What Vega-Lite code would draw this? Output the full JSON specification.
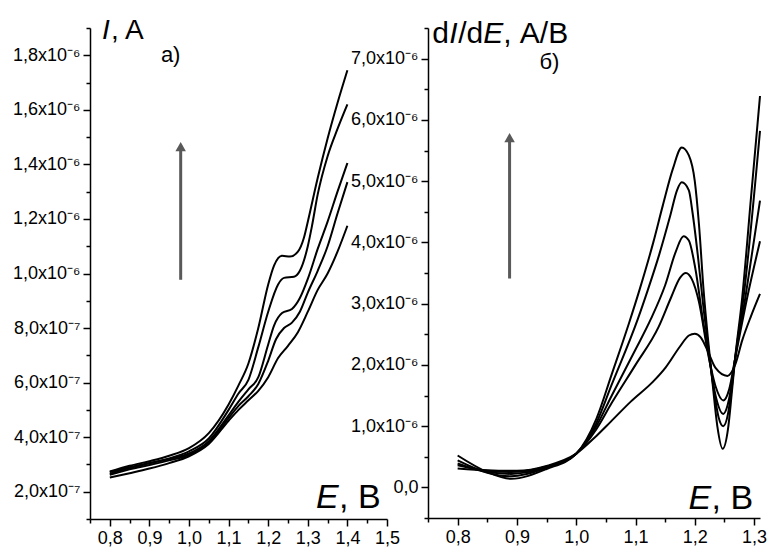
{
  "$schema": "https://vega.github.io/schema/vega-lite/v6.json",
  "background": "white",
  "padding": {"left": 12, "top": 16, "right": 5, "bottom": 5},
  "bounds": "flush",
  "spacing": 41,
  "config": {
    "view": {"stroke": null},
    "axis": {
      "grid": false,
      "domainColor": "black",
      "domainWidth": 1.5,
      "tickColor": "black",
      "tickWidth": 1.5,
      "labelFont": "Liberation Sans",
      "labelFontSize": 18,
      "labelColor": "black",
      "title": null
    },
    "text": {"font": "Liberation Sans", "color": "black"}
  },
  "datasets": {
    "left": [
      {"curve": 1, "E": 0.80, "I": 2.74e-7}, {"curve": 1, "E": 0.85, "I": 2.95e-7}, {"curve": 1, "E": 0.90, "I": 3.12e-7}, {"curve": 1, "E": 0.95, "I": 3.32e-7}, {"curve": 1, "E": 1.00, "I": 3.6e-7}, {"curve": 1, "E": 1.05, "I": 4.15e-7}, {"curve": 1, "E": 1.10, "I": 5.2e-7}, {"curve": 1, "E": 1.125, "I": 5.9e-7}, {"curve": 1, "E": 1.15, "I": 6.7e-7}, {"curve": 1, "E": 1.175, "I": 8.0e-7}, {"curve": 1, "E": 1.20, "I": 9.6e-7}, {"curve": 1, "E": 1.215, "I": 1.03e-6}, {"curve": 1, "E": 1.235, "I": 1.065e-6}, {"curve": 1, "E": 1.255, "I": 1.062e-6}, {"curve": 1, "E": 1.275, "I": 1.08e-6}, {"curve": 1, "E": 1.29, "I": 1.13e-6}, {"curve": 1, "E": 1.30, "I": 1.19e-6}, {"curve": 1, "E": 1.325, "I": 1.35e-6}, {"curve": 1, "E": 1.35, "I": 1.495e-6}, {"curve": 1, "E": 1.375, "I": 1.625e-6}, {"curve": 1, "E": 1.40, "I": 1.745e-6},
      {"curve": 2, "E": 0.80, "I": 2.66e-7}, {"curve": 2, "E": 0.85, "I": 2.87e-7}, {"curve": 2, "E": 0.90, "I": 3.04e-7}, {"curve": 2, "E": 0.95, "I": 3.22e-7}, {"curve": 2, "E": 1.00, "I": 3.48e-7}, {"curve": 2, "E": 1.05, "I": 3.95e-7}, {"curve": 2, "E": 1.10, "I": 5.0e-7}, {"curve": 2, "E": 1.125, "I": 5.6e-7}, {"curve": 2, "E": 1.15, "I": 6.1e-7}, {"curve": 2, "E": 1.175, "I": 7.3e-7}, {"curve": 2, "E": 1.20, "I": 8.6e-7}, {"curve": 2, "E": 1.225, "I": 9.6e-7}, {"curve": 2, "E": 1.24, "I": 9.84e-7}, {"curve": 2, "E": 1.265, "I": 9.88e-7}, {"curve": 2, "E": 1.28, "I": 1.01e-6}, {"curve": 2, "E": 1.30, "I": 1.10e-6}, {"curve": 2, "E": 1.31, "I": 1.17e-6}, {"curve": 2, "E": 1.325, "I": 1.29e-6}, {"curve": 2, "E": 1.35, "I": 1.43e-6}, {"curve": 2, "E": 1.375, "I": 1.53e-6}, {"curve": 2, "E": 1.40, "I": 1.62e-6},
      {"curve": 3, "E": 0.80, "I": 2.72e-7}, {"curve": 3, "E": 0.85, "I": 2.9e-7}, {"curve": 3, "E": 0.90, "I": 3.05e-7}, {"curve": 3, "E": 0.95, "I": 3.2e-7}, {"curve": 3, "E": 1.00, "I": 3.4e-7}, {"curve": 3, "E": 1.05, "I": 3.85e-7}, {"curve": 3, "E": 1.10, "I": 4.8e-7}, {"curve": 3, "E": 1.125, "I": 5.3e-7}, {"curve": 3, "E": 1.15, "I": 5.75e-7}, {"curve": 3, "E": 1.175, "I": 6.2e-7}, {"curve": 3, "E": 1.20, "I": 7.4e-7}, {"curve": 3, "E": 1.215, "I": 8.1e-7}, {"curve": 3, "E": 1.235, "I": 8.55e-7}, {"curve": 3, "E": 1.26, "I": 8.7e-7}, {"curve": 3, "E": 1.28, "I": 9.1e-7}, {"curve": 3, "E": 1.30, "I": 9.8e-7}, {"curve": 3, "E": 1.325, "I": 1.09e-6}, {"curve": 3, "E": 1.35, "I": 1.19e-6}, {"curve": 3, "E": 1.375, "I": 1.30e-6}, {"curve": 3, "E": 1.40, "I": 1.405e-6},
      {"curve": 4, "E": 0.80, "I": 2.62e-7}, {"curve": 4, "E": 0.85, "I": 2.82e-7}, {"curve": 4, "E": 0.90, "I": 2.98e-7}, {"curve": 4, "E": 0.95, "I": 3.15e-7}, {"curve": 4, "E": 1.00, "I": 3.35e-7}, {"curve": 4, "E": 1.05, "I": 3.8e-7}, {"curve": 4, "E": 1.10, "I": 4.7e-7}, {"curve": 4, "E": 1.125, "I": 5.15e-7}, {"curve": 4, "E": 1.15, "I": 5.5e-7}, {"curve": 4, "E": 1.175, "I": 5.95e-7}, {"curve": 4, "E": 1.20, "I": 6.8e-7}, {"curve": 4, "E": 1.22, "I": 7.6e-7}, {"curve": 4, "E": 1.24, "I": 8.0e-7}, {"curve": 4, "E": 1.26, "I": 8.2e-7}, {"curve": 4, "E": 1.28, "I": 8.6e-7}, {"curve": 4, "E": 1.30, "I": 9.3e-7}, {"curve": 4, "E": 1.325, "I": 1.01e-6}, {"curve": 4, "E": 1.35, "I": 1.10e-6}, {"curve": 4, "E": 1.375, "I": 1.22e-6}, {"curve": 4, "E": 1.40, "I": 1.335e-6},
      {"curve": 5, "E": 0.80, "I": 2.52e-7}, {"curve": 5, "E": 0.85, "I": 2.68e-7}, {"curve": 5, "E": 0.90, "I": 2.85e-7}, {"curve": 5, "E": 0.95, "I": 3.05e-7}, {"curve": 5, "E": 1.00, "I": 3.3e-7}, {"curve": 5, "E": 1.05, "I": 3.75e-7}, {"curve": 5, "E": 1.10, "I": 4.6e-7}, {"curve": 5, "E": 1.125, "I": 5.0e-7}, {"curve": 5, "E": 1.15, "I": 5.35e-7}, {"curve": 5, "E": 1.175, "I": 5.7e-7}, {"curve": 5, "E": 1.20, "I": 6.2e-7}, {"curve": 5, "E": 1.225, "I": 6.9e-7}, {"curve": 5, "E": 1.25, "I": 7.35e-7}, {"curve": 5, "E": 1.275, "I": 7.85e-7}, {"curve": 5, "E": 1.30, "I": 8.6e-7}, {"curve": 5, "E": 1.325, "I": 9.4e-7}, {"curve": 5, "E": 1.35, "I": 1.0e-6}, {"curve": 5, "E": 1.375, "I": 1.08e-6}, {"curve": 5, "E": 1.40, "I": 1.175e-6}
    ],
    "right": [
      {"curve": "A", "E": 0.80, "dIdE": 0.52e-6}, {"curve": "A", "E": 0.85, "dIdE": 0.25e-6}, {"curve": "A", "E": 0.89, "dIdE": 0.14e-6}, {"curve": "A", "E": 0.95, "dIdE": 0.30e-6}, {"curve": "A", "E": 1.00, "dIdE": 0.55e-6}, {"curve": "A", "E": 1.034, "dIdE": 1.12e-6}, {"curve": "A", "E": 1.06, "dIdE": 1.85e-6}, {"curve": "A", "E": 1.089, "dIdE": 2.68e-6}, {"curve": "A", "E": 1.106, "dIdE": 3.2e-6}, {"curve": "A", "E": 1.13, "dIdE": 4.0e-6}, {"curve": "A", "E": 1.146, "dIdE": 4.6e-6}, {"curve": "A", "E": 1.163, "dIdE": 5.2e-6}, {"curve": "A", "E": 1.178, "dIdE": 5.55e-6}, {"curve": "A", "E": 1.19, "dIdE": 5.42e-6}, {"curve": "A", "E": 1.20, "dIdE": 5.0e-6}, {"curve": "A", "E": 1.207, "dIdE": 4.3e-6}, {"curve": "A", "E": 1.215, "dIdE": 3.2e-6}, {"curve": "A", "E": 1.222, "dIdE": 2.45e-6}, {"curve": "A", "E": 1.23, "dIdE": 1.7e-6}, {"curve": "A", "E": 1.238, "dIdE": 1.0e-6}, {"curve": "A", "E": 1.247, "dIdE": 0.63e-6}, {"curve": "A", "E": 1.256, "dIdE": 0.95e-6}, {"curve": "A", "E": 1.262, "dIdE": 1.5e-6}, {"curve": "A", "E": 1.268, "dIdE": 2.1e-6}, {"curve": "A", "E": 1.28, "dIdE": 3.1e-6}, {"curve": "A", "E": 1.295, "dIdE": 4.75e-6}, {"curve": "A", "E": 1.31, "dIdE": 6.39e-6},
      {"curve": "B", "E": 0.80, "dIdE": 0.44e-6}, {"curve": "B", "E": 0.85, "dIdE": 0.24e-6}, {"curve": "B", "E": 0.89, "dIdE": 0.18e-6}, {"curve": "B", "E": 0.95, "dIdE": 0.32e-6}, {"curve": "B", "E": 1.00, "dIdE": 0.55e-6}, {"curve": "B", "E": 1.034, "dIdE": 1.05e-6}, {"curve": "B", "E": 1.06, "dIdE": 1.68e-6}, {"curve": "B", "E": 1.104, "dIdE": 2.75e-6}, {"curve": "B", "E": 1.12, "dIdE": 3.2e-6}, {"curve": "B", "E": 1.14, "dIdE": 3.8e-6}, {"curve": "B", "E": 1.159, "dIdE": 4.45e-6}, {"curve": "B", "E": 1.17, "dIdE": 4.85e-6}, {"curve": "B", "E": 1.178, "dIdE": 4.98e-6}, {"curve": "B", "E": 1.19, "dIdE": 4.85e-6}, {"curve": "B", "E": 1.196, "dIdE": 4.5e-6}, {"curve": "B", "E": 1.205, "dIdE": 3.8e-6}, {"curve": "B", "E": 1.215, "dIdE": 2.9e-6}, {"curve": "B", "E": 1.222, "dIdE": 2.35e-6}, {"curve": "B", "E": 1.232, "dIdE": 1.6e-6}, {"curve": "B", "E": 1.24, "dIdE": 1.15e-6}, {"curve": "B", "E": 1.248, "dIdE": 1.0e-6}, {"curve": "B", "E": 1.256, "dIdE": 1.2e-6}, {"curve": "B", "E": 1.262, "dIdE": 1.6e-6}, {"curve": "B", "E": 1.268, "dIdE": 2.1e-6}, {"curve": "B", "E": 1.282, "dIdE": 3.08e-6}, {"curve": "B", "E": 1.31, "dIdE": 5.82e-6},
      {"curve": "C", "E": 0.80, "dIdE": 0.39e-6}, {"curve": "C", "E": 0.85, "dIdE": 0.25e-6}, {"curve": "C", "E": 0.89, "dIdE": 0.22e-6}, {"curve": "C", "E": 0.95, "dIdE": 0.33e-6}, {"curve": "C", "E": 1.00, "dIdE": 0.55e-6}, {"curve": "C", "E": 1.034, "dIdE": 1.0e-6}, {"curve": "C", "E": 1.06, "dIdE": 1.5e-6}, {"curve": "C", "E": 1.10, "dIdE": 2.25e-6}, {"curve": "C", "E": 1.126, "dIdE": 2.75e-6}, {"curve": "C", "E": 1.15, "dIdE": 3.3e-6}, {"curve": "C", "E": 1.168, "dIdE": 3.85e-6}, {"curve": "C", "E": 1.181, "dIdE": 4.1e-6}, {"curve": "C", "E": 1.19, "dIdE": 4.03e-6}, {"curve": "C", "E": 1.201, "dIdE": 3.57e-6}, {"curve": "C", "E": 1.215, "dIdE": 2.65e-6}, {"curve": "C", "E": 1.222, "dIdE": 2.25e-6}, {"curve": "C", "E": 1.235, "dIdE": 1.5e-6}, {"curve": "C", "E": 1.248, "dIdE": 1.2e-6}, {"curve": "C", "E": 1.258, "dIdE": 1.45e-6}, {"curve": "C", "E": 1.268, "dIdE": 2.1e-6}, {"curve": "C", "E": 1.285, "dIdE": 3.08e-6}, {"curve": "C", "E": 1.31, "dIdE": 4.68e-6},
      {"curve": "D", "E": 0.80, "dIdE": 0.36e-6}, {"curve": "D", "E": 0.85, "dIdE": 0.27e-6}, {"curve": "D", "E": 0.89, "dIdE": 0.25e-6}, {"curve": "D", "E": 0.95, "dIdE": 0.34e-6}, {"curve": "D", "E": 1.00, "dIdE": 0.55e-6}, {"curve": "D", "E": 1.034, "dIdE": 0.95e-6}, {"curve": "D", "E": 1.06, "dIdE": 1.38e-6}, {"curve": "D", "E": 1.10, "dIdE": 2.0e-6}, {"curve": "D", "E": 1.139, "dIdE": 2.62e-6}, {"curve": "D", "E": 1.16, "dIdE": 3.1e-6}, {"curve": "D", "E": 1.175, "dIdE": 3.42e-6}, {"curve": "D", "E": 1.185, "dIdE": 3.5e-6}, {"curve": "D", "E": 1.195, "dIdE": 3.4e-6}, {"curve": "D", "E": 1.207, "dIdE": 3.03e-6}, {"curve": "D", "E": 1.222, "dIdE": 2.2e-6}, {"curve": "D", "E": 1.235, "dIdE": 1.65e-6}, {"curve": "D", "E": 1.248, "dIdE": 1.42e-6}, {"curve": "D", "E": 1.258, "dIdE": 1.6e-6}, {"curve": "D", "E": 1.268, "dIdE": 2.1e-6}, {"curve": "D", "E": 1.288, "dIdE": 3.08e-6}, {"curve": "D", "E": 1.31, "dIdE": 4.02e-6},
      {"curve": "E", "E": 0.80, "dIdE": 0.31e-6}, {"curve": "E", "E": 0.85, "dIdE": 0.28e-6}, {"curve": "E", "E": 0.90, "dIdE": 0.27e-6}, {"curve": "E", "E": 0.95, "dIdE": 0.35e-6}, {"curve": "E", "E": 1.00, "dIdE": 0.55e-6}, {"curve": "E", "E": 1.034, "dIdE": 0.84e-6}, {"curve": "E", "E": 1.058, "dIdE": 1.07e-6}, {"curve": "E", "E": 1.092, "dIdE": 1.4e-6}, {"curve": "E", "E": 1.13, "dIdE": 1.73e-6}, {"curve": "E", "E": 1.151, "dIdE": 1.96e-6}, {"curve": "E", "E": 1.175, "dIdE": 2.3e-6}, {"curve": "E", "E": 1.19, "dIdE": 2.48e-6}, {"curve": "E", "E": 1.20, "dIdE": 2.51e-6}, {"curve": "E", "E": 1.21, "dIdE": 2.45e-6}, {"curve": "E", "E": 1.223, "dIdE": 2.2e-6}, {"curve": "E", "E": 1.235, "dIdE": 1.95e-6}, {"curve": "E", "E": 1.255, "dIdE": 1.82e-6}, {"curve": "E", "E": 1.268, "dIdE": 2.0e-6}, {"curve": "E", "E": 1.28, "dIdE": 2.4e-6}, {"curve": "E", "E": 1.295, "dIdE": 2.8e-6}, {"curve": "E", "E": 1.31, "dIdE": 3.16e-6}
    ]
  },
  "hconcat": [
    {
      "width": 297,
      "height": 491,
      "resolve": {"axis": {"x": "independent", "y": "independent"}},
      "layer": [
        {
          "data": {"name": "left"},
          "mark": {"type": "line", "color": "black", "strokeWidth": 2, "interpolate": "monotone"},
          "encoding": {
            "x": {
              "field": "E", "type": "quantitative",
              "scale": {"domain": [0.75, 1.5], "nice": false, "zero": false},
              "axis": {
                "orient": "bottom",
                "values": [0.8, 0.9, 1.0, 1.1, 1.2, 1.3, 1.4, 1.5],
                "labelExpr": "replace(format(datum.value, '.1f'), '.', ',')",
                "tickSize": 7,
                "labelPadding": 3,
                "labelFlush": false,
                "labelOverlap": false
              }
            },
            "y": {
              "field": "I", "type": "quantitative",
              "scale": {"domain": [1e-7, 1.9e-6], "nice": false, "zero": false},
              "axis": {
                "orient": "left",
                "values": [2e-7, 4e-7, 6e-7, 8e-7, 1e-6, 1.2e-6, 1.4e-6, 1.6e-6, 1.8e-6],
                "labelExpr": "datum.value > 9.99e-7 ? replace(format(datum.value*1e6, '.1f'), '.', ',') + 'x10⁻⁶' : replace(format(datum.value*1e7, '.1f'), '.', ',') + 'x10⁻⁷'",
                "tickSize": 7,
                "labelPadding": 3,
                "labelFlush": false,
                "labelOverlap": false
              }
            },
            "detail": {"field": "curve"}
          }
        },
        {
          "data": {"values": [{}]},
          "mark": {"type": "rule", "color": "#595959", "strokeWidth": 3},
          "encoding": {
            "x": {"datum": 0.979, "type": "quantitative", "axis": {"orient": "bottom", "values": [0.75, 0.85, 0.95, 1.05, 1.15, 1.25, 1.35, 1.45], "labels": false, "domain": false, "tickSize": 4}},
            "y": {"datum": 9.77e-7, "type": "quantitative", "axis": {"orient": "left", "values": [1e-7, 3e-7, 5e-7, 7e-7, 9e-7, 1.1e-6, 1.3e-6, 1.5e-6, 1.7e-6, 1.9e-6], "labels": false, "domain": false, "tickSize": 4}},
            "y2": {"datum": 1.47e-6}
          }
        },
        {
          "data": {"values": [{}]},
          "mark": {"type": "point", "shape": "triangle-up", "filled": true, "color": "#595959", "size": 110, "opacity": 1},
          "encoding": {
            "x": {"datum": 0.979, "type": "quantitative", "axis": null},
            "y": {"datum": 1.465e-6, "type": "quantitative", "axis": null}
          }
        },
        {
          "data": {"values": [{}]},
          "mark": {"type": "text", "text": "I", "fontStyle": "italic", "fontSize": 28, "align": "left", "baseline": "alphabetic"},
          "encoding": {"x": {"datum": 0.78, "type": "quantitative", "axis": null}, "y": {"datum": 1.86e-6, "type": "quantitative", "axis": null}}
        },
        {
          "data": {"values": [{}]},
          "mark": {"type": "text", "text": ", A", "fontSize": 28, "align": "left", "baseline": "alphabetic", "dx": 9},
          "encoding": {"x": {"datum": 0.78, "type": "quantitative", "axis": null}, "y": {"datum": 1.86e-6, "type": "quantitative", "axis": null}}
        },
        {
          "data": {"values": [{}]},
          "mark": {"type": "text", "text": "а)", "fontSize": 22, "align": "left", "baseline": "alphabetic"},
          "encoding": {"x": {"datum": 0.929, "type": "quantitative", "axis": null}, "y": {"datum": 1.775e-6, "type": "quantitative", "axis": null}}
        },
        {
          "data": {"values": [{}]},
          "mark": {"type": "text", "text": "E", "fontStyle": "italic", "fontSize": 34, "align": "left", "baseline": "alphabetic"},
          "encoding": {"x": {"datum": 1.3207, "type": "quantitative", "axis": null}, "y": {"datum": 1.42e-7, "type": "quantitative", "axis": null}}
        },
        {
          "data": {"values": [{}]},
          "mark": {"type": "text", "text": ", В", "fontSize": 34, "align": "left", "baseline": "alphabetic", "dx": 23},
          "encoding": {"x": {"datum": 1.3207, "type": "quantitative", "axis": null}, "y": {"datum": 1.42e-7, "type": "quantitative", "axis": null}}
        }
      ]
    },
    {
      "width": 332,
      "height": 490,
      "resolve": {"axis": {"x": "independent", "y": "independent"}},
      "layer": [
        {
          "data": {"name": "right"},
          "mark": {"type": "line", "color": "black", "strokeWidth": 2, "interpolate": "monotone"},
          "encoding": {
            "x": {
              "field": "E", "type": "quantitative",
              "scale": {"domain": [0.75, 1.31], "nice": false, "zero": false},
              "axis": {
                "orient": "bottom",
                "values": [0.8, 0.9, 1.0, 1.1, 1.2, 1.3],
                "labelExpr": "replace(format(datum.value, '.1f'), '.', ',')",
                "tickSize": 7,
                "labelPadding": 3,
                "labelFlush": false,
                "labelOverlap": false
              }
            },
            "y": {
              "field": "dIdE", "type": "quantitative",
              "scale": {"domain": [-5e-7, 7.5e-6], "nice": false, "zero": false},
              "axis": {
                "orient": "left",
                "values": [0, 1e-6, 2e-6, 3e-6, 4e-6, 5e-6, 6e-6, 7e-6],
                "labelExpr": "abs(datum.value) < 1e-9 ? '0,0' : replace(format(datum.value*1e6, '.1f'), '.', ',') + 'x10⁻⁶'",
                "tickSize": 7,
                "labelPadding": 3,
                "labelFlush": false,
                "labelOverlap": false
              }
            },
            "detail": {"field": "curve"}
          }
        },
        {
          "data": {"values": [{}]},
          "mark": {"type": "rule", "color": "#595959", "strokeWidth": 3},
          "encoding": {
            "x": {"datum": 0.8876, "type": "quantitative", "axis": {"orient": "bottom", "values": [0.75, 0.85, 0.95, 1.05, 1.15, 1.25], "labels": false, "domain": false, "tickSize": 4}},
            "y": {"datum": 3.41e-6, "type": "quantitative", "axis": {"orient": "left", "values": [-5e-7, 5e-7, 1.5e-6, 2.5e-6, 3.5e-6, 4.5e-6, 5.5e-6, 6.5e-6, 7.5e-6], "labels": false, "domain": false, "tickSize": 4}},
            "y2": {"datum": 5.72e-6}
          }
        },
        {
          "data": {"values": [{}]},
          "mark": {"type": "point", "shape": "triangle-up", "filled": true, "color": "#595959", "size": 110, "opacity": 1},
          "encoding": {
            "x": {"datum": 0.8876, "type": "quantitative", "axis": null},
            "y": {"datum": 5.71e-6, "type": "quantitative", "axis": null}
          }
        },
        {
          "data": {"values": [{}]},
          "mark": {"type": "text", "text": "d", "fontSize": 30, "align": "left", "baseline": "alphabetic"},
          "encoding": {"x": {"datum": 0.757, "type": "quantitative", "axis": null}, "y": {"datum": 7.255e-6, "type": "quantitative", "axis": null}}
        },
        {
          "data": {"values": [{}]},
          "mark": {"type": "text", "text": "I", "fontStyle": "italic", "fontSize": 30, "align": "left", "baseline": "alphabetic", "dx": 17},
          "encoding": {"x": {"datum": 0.757, "type": "quantitative", "axis": null}, "y": {"datum": 7.255e-6, "type": "quantitative", "axis": null}}
        },
        {
          "data": {"values": [{}]},
          "mark": {"type": "text", "text": "/d", "fontSize": 30, "align": "left", "baseline": "alphabetic", "dx": 26},
          "encoding": {"x": {"datum": 0.757, "type": "quantitative", "axis": null}, "y": {"datum": 7.255e-6, "type": "quantitative", "axis": null}}
        },
        {
          "data": {"values": [{}]},
          "mark": {"type": "text", "text": "E", "fontStyle": "italic", "fontSize": 30, "align": "left", "baseline": "alphabetic", "dx": 51},
          "encoding": {"x": {"datum": 0.757, "type": "quantitative", "axis": null}, "y": {"datum": 7.255e-6, "type": "quantitative", "axis": null}}
        },
        {
          "data": {"values": [{}]},
          "mark": {"type": "text", "text": ", А/В", "fontSize": 30, "align": "left", "baseline": "alphabetic", "dx": 71},
          "encoding": {"x": {"datum": 0.757, "type": "quantitative", "axis": null}, "y": {"datum": 7.255e-6, "type": "quantitative", "axis": null}}
        },
        {
          "data": {"values": [{}]},
          "mark": {"type": "text", "text": "б)", "fontSize": 22, "align": "left", "baseline": "alphabetic"},
          "encoding": {"x": {"datum": 0.938, "type": "quantitative", "axis": null}, "y": {"datum": 6.83e-6, "type": "quantitative", "axis": null}}
        },
        {
          "data": {"values": [{}]},
          "mark": {"type": "text", "text": "E", "fontStyle": "italic", "fontSize": 34, "align": "left", "baseline": "alphabetic"},
          "encoding": {"x": {"datum": 1.1896, "type": "quantitative", "axis": null}, "y": {"datum": -3.47e-7, "type": "quantitative", "axis": null}}
        },
        {
          "data": {"values": [{}]},
          "mark": {"type": "text", "text": ", В", "fontSize": 34, "align": "left", "baseline": "alphabetic", "dx": 23},
          "encoding": {"x": {"datum": 1.1896, "type": "quantitative", "axis": null}, "y": {"datum": -3.47e-7, "type": "quantitative", "axis": null}}
        }
      ]
    }
  ]
}
